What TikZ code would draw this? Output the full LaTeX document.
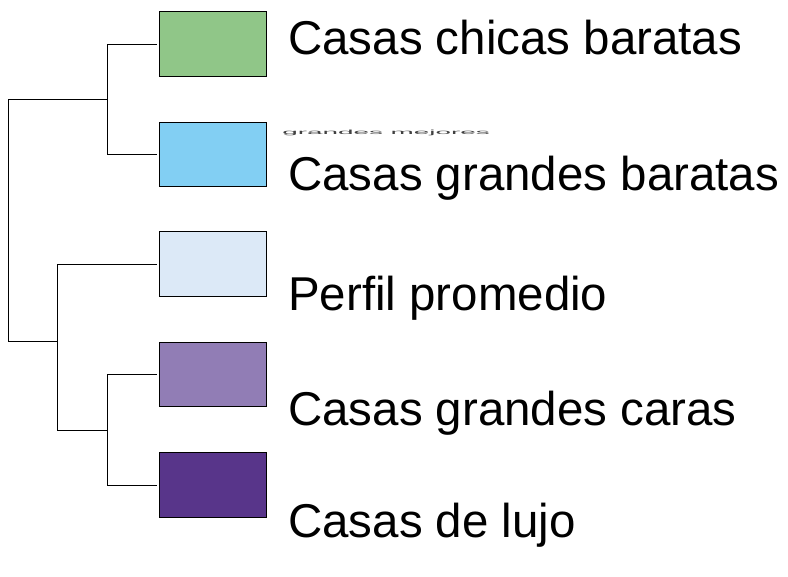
\documentclass[tikz,border=0pt]{standalone}
\usepackage{fontspec}
\setmainfont{Liberation Sans}
\usepackage{tikz}
\usetikzlibrary{positioning,calc}

\definecolor{cverde}{RGB}{144,198,136}
\definecolor{cceleste}{RGB}{130,207,243}
\definecolor{cclaro}{RGB}{220,233,247}
\definecolor{clila}{RGB}{145,125,181}
\definecolor{cmorado}{RGB}{88,53,138}

\begin{document}
\begin{tikzpicture}[
  x=0.75pt,y=-0.75pt,
  every node/.style={font=\fontsize{35.6}{40}\selectfont},
  box/.style={draw,rectangle,line width=0.8pt,minimum width=80pt,minimum height=48.4pt,inner sep=0pt},
  lbl/.style={anchor=base west,inner sep=0pt},
  rama/.style={line width=0.75pt},
  hoja/.style={rama,shorten >=1.5pt},
]
\useasboundingbox (0,0) rectangle (788,576);

% colour boxes (one per cluster)
\node[box,fill=cverde] (chicas) at (213,44) {};
\node[box,fill=cceleste] (gbaratas) at (213,154.3) {};
\node[box,fill=cclaro] (perfil) at (213,264) {};
\node[box,fill=clila] (gcaras) at (213,374.5) {};
\node[box,fill=cmorado] (lujo) at (213,485) {};

% labels
\node[lbl] (lchicas) at (288,54) {Casas chicas baratas};
\node[lbl,font=\fontsize{20.9}{22}\selectfont,text=black!75] (lmejores) at (282,134) {\scalebox{1}[0.22]{grandes mejores}};
\node[lbl] (lgbaratas) at (288,190) {Casas grandes baratas};
\node[lbl] (lperfil) at (288,310.7) {Perfil promedio};
\node[lbl] (lgcaras) at (288,425.7) {Casas grandes caras};
\node[lbl] (llujo) at (288,537.7) {Casas de lujo};

% dendrogram junctions
\coordinate (jsup) at (107,99);
\coordinate (jinf) at (107,430);
\coordinate (jmed) at (57.3,341.7);
\coordinate (raiz) at (8.3,220);

\draw[hoja] (jsup) |- (chicas.west);
\draw[hoja] (jsup) |- (gbaratas.west);
\draw[hoja] (jinf) |- (gcaras.west);
\draw[hoja] (jinf) |- (lujo.west);
\draw[hoja] (jmed) |- (perfil.west);
\draw[rama] (jmed) |- (jinf);
\draw[rama] (raiz) |- (jsup);
\draw[rama] (raiz) |- (jmed);

\end{tikzpicture}
\end{document}
